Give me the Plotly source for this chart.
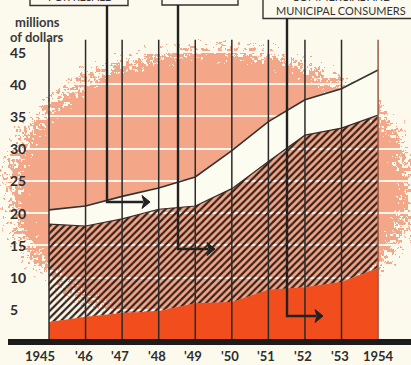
import base64
import struct
import zlib

import numpy as np
import plotly.graph_objects as go

# ---- data (millions of dollars) ----
YEARS = [1945, 1946, 1947, 1948, 1949, 1950, 1951, 1952, 1953, 1954]
YEAR_LABELS = ["1945", "'46", "'47", "'48", "'49", "'50", "'51", "'52", "'53", "1954"]
CONSUMERS = [3.1, 3.9, 4.5, 4.8, 6.0, 6.2, 8.1, 8.5, 9.3, 11.5]         # solid red band
INDUSTRIAL = [15.2, 14.1, 14.6, 15.8, 15.1, 17.6, 19.9, 23.6, 23.9, 23.7]  # hatched band
RESALE = [2.2, 3.1, 3.5, 3.3, 4.5, 5.9, 6.2, 5.5, 6.1, 7.0]              # top white band
Y_TICKS = [5, 10, 15, 20, 25, 30, 35, 40, 45]

# ---- figure geometry ----
W, H = 411, 365
X_RANGE = [1943.66, 1954.90]
Y_RANGE = [-3.57, 53.07]
LINE_TOP = 46.9  # how far the year rules rise above the data

CREAM = (252, 250, 236)
SALMON = (244, 166, 136)
RED = "#F14D1D"
INK = "#2b2b2b"
FONT = "Lato"


def px(x):
    return x / W


def py(y):
    return 1 - y / H


def png_uri(rgb):
    h, w, _ = rgb.shape
    raw = b"".join(b"\x00" + rgb[r].tobytes() for r in range(h))

    def chunk(tag, data):
        body = tag + data
        return struct.pack(">I", len(data)) + body + struct.pack(">I", zlib.crc32(body) & 0xFFFFFFFF)

    png = (b"\x89PNG\r\n\x1a\n"
           + chunk(b"IHDR", struct.pack(">IIBBBBB", w, h, 8, 2, 0, 0, 0))
           + chunk(b"IDAT", zlib.compress(raw, 9))
           + chunk(b"IEND", b""))
    return "data:image/png;base64," + base64.b64encode(png).decode()


def backdrop():
    """Speckled salmon blot printed behind the chart."""
    yy, xx = np.mgrid[0:H, 0:W].astype(float)
    d = np.sqrt(((xx - 210) / 215) ** 2 + ((yy - 190) / 150) ** 2)
    t = np.clip((1.04 - d) / 0.22, 0, 1)
    rng = np.random.default_rng(11)
    coarse = rng.random((H // 3 + 1, W // 3 + 1)).repeat(3, 0).repeat(3, 1)[:H, :W]
    mid = rng.random((H // 2 + 1, W // 2 + 1)).repeat(2, 0).repeat(2, 1)[:H, :W]
    fine = rng.random((H, W))
    noise = 0.45 * coarse + 0.35 * mid + 0.2 * fine
    mask = (t > noise)[..., None]
    img = np.where(mask, np.array(SALMON, float), np.array(CREAM, float))
    return png_uri(img.astype(np.uint8))


fig = go.Figure()

# stacked bands
fig.add_trace(go.Scatter(
    x=YEARS, y=CONSUMERS, mode="lines", stackgroup="s",
    line=dict(width=0, color=RED), fillcolor=RED, hoverinfo="skip"))
fig.add_trace(go.Scatter(
    x=YEARS, y=INDUSTRIAL, mode="lines", stackgroup="s",
    line=dict(width=1.2, color="#3a2a25"), fillcolor="rgba(0,0,0,0)",
    fillpattern=dict(shape="/", size=5, solidity=0.45, fgcolor="#35221c",
                     bgcolor="rgba(0,0,0,0)", fgopacity=1),
    hoverinfo="skip"))
fig.add_trace(go.Scatter(
    x=YEARS, y=RESALE, mode="lines", stackgroup="s",
    line=dict(width=1.6, color="#333333"), fillcolor="rgb(253,252,240)",
    hoverinfo="skip"))

shapes = []
# year rules
for i, yr in enumerate(YEARS):
    shapes.append(dict(type="line", xref="x", yref="y", x0=yr, x1=yr, y0=0, y1=LINE_TOP,
                       line=dict(color="#9a5a48" if i == len(YEARS) - 1 else INK, width=1.5),
                       layer="above"))
# base bar
shapes.append(dict(type="line", xref="paper", yref="y", x0=px(8), x1=1, y0=0, y1=0,
                   line=dict(color="#1c1c1c", width=6), layer="above"))

# callout boxes and elbow arrows (pixel geometry)
CALLOUTS = [
    # box (x0, x1, bottom), stem x, elbow y, arrow tip x
    dict(box=(30, 128, 5.5), stem=107, elbow=202, tip=150),
    dict(box=(162, 238, 5.0), stem=178, elbow=249, tip=215),
    dict(box=(263, 420, 18.5), stem=287, elbow=316, tip=323),
]
for c in CALLOUTS:
    bx0, bx1, bb = c["box"]
    shapes.append(dict(type="rect", xref="paper", yref="paper",
                       x0=px(bx0), x1=px(bx1), y0=py(bb), y1=py(-40),
                       line=dict(color="#333333", width=1.4), fillcolor="rgb(252,250,238)",
                       layer="above"))
    s, e, t = c["stem"], c["elbow"], c["tip"]
    back = t - 8
    shapes.append(dict(type="path", xref="paper", yref="paper",
                       path=f"M{px(s)},{py(bb)} L{px(s)},{py(e)} L{px(back + 1)},{py(e)}",
                       line=dict(color="#222222", width=2.4), layer="above"))
    shapes.append(dict(type="path", xref="paper", yref="paper",
                       path=(f"M{px(t)},{py(e)} L{px(back)},{py(e - 6.5)} "
                             f"L{px(back + 2)},{py(e)} L{px(back)},{py(e + 6.5)} Z"),
                       line=dict(color="#222222", width=1), fillcolor="#222222",
                       layer="above"))

annotations = []
for v in Y_TICKS:
    annotations.append(dict(x=px(8), y=v, xref="paper", yref="y", text=str(v),
                            showarrow=False, xanchor="left", yanchor="middle",
                            font=dict(family=FONT, size=14, color="#2e2e2e", weight="bold")))
for i, (yr, lab) in enumerate(zip(YEARS, YEAR_LABELS)):
    shift = -9 if i == 0 else (0 if lab.startswith("19") else -2)
    annotations.append(dict(x=yr, y=py(356), xref="x", yref="paper", text=lab,
                            showarrow=False, xanchor="center", yanchor="middle", xshift=shift,
                            font=dict(family=FONT, size=13, color="#2e2e2e", weight="bold")))
annotations += [
    dict(x=px(37), y=py(22), xref="paper", yref="paper", text="millions", showarrow=False,
         xanchor="center", yanchor="middle",
         font=dict(family=FONT, size=13, color="#3a3a3a", weight="bold")),
    dict(x=px(37), y=py(37), xref="paper", yref="paper", text="of dollars", showarrow=False,
         xanchor="center", yanchor="middle",
         font=dict(family=FONT, size=13, color="#3a3a3a", weight="bold")),
    dict(x=px(79), y=py(-3.5), xref="paper", yref="paper", text="FOR RESALE", showarrow=False,
         xanchor="center", yanchor="middle",
         font=dict(family=FONT, size=11, color="#333333")),
    dict(x=px(341), y=py(-4), xref="paper", yref="paper", text="COMMERCIAL AND", showarrow=False,
         xanchor="center", yanchor="middle",
         font=dict(family=FONT, size=11, color="#333333")),
    dict(x=px(341), y=py(10), xref="paper", yref="paper", text="MUNICIPAL CONSUMERS",
         showarrow=False, xanchor="center", yanchor="middle",
         font=dict(family=FONT, size=11, color="#333333")),
]

fig.update_layout(
    width=W, height=H, margin=dict(l=0, r=0, t=0, b=0),
    paper_bgcolor="rgb(252,250,236)", plot_bgcolor="rgba(0,0,0,0)",
    showlegend=False,
    xaxis=dict(range=X_RANGE, showgrid=False, zeroline=False, showticklabels=False,
               ticks="", fixedrange=True),
    yaxis=dict(range=Y_RANGE, tickvals=Y_TICKS, showgrid=True, gridcolor="rgb(255,246,236)",
               gridwidth=2, zeroline=False, showticklabels=False, ticks="", fixedrange=True),
    images=[dict(source=backdrop(), xref="paper", yref="paper", x=0, y=1, sizex=1, sizey=1,
                 xanchor="left", yanchor="top", sizing="stretch", layer="below")],
    shapes=shapes,
    annotations=annotations,
)

fig.write_html("out.html", config=dict(displayModeBar=False))
